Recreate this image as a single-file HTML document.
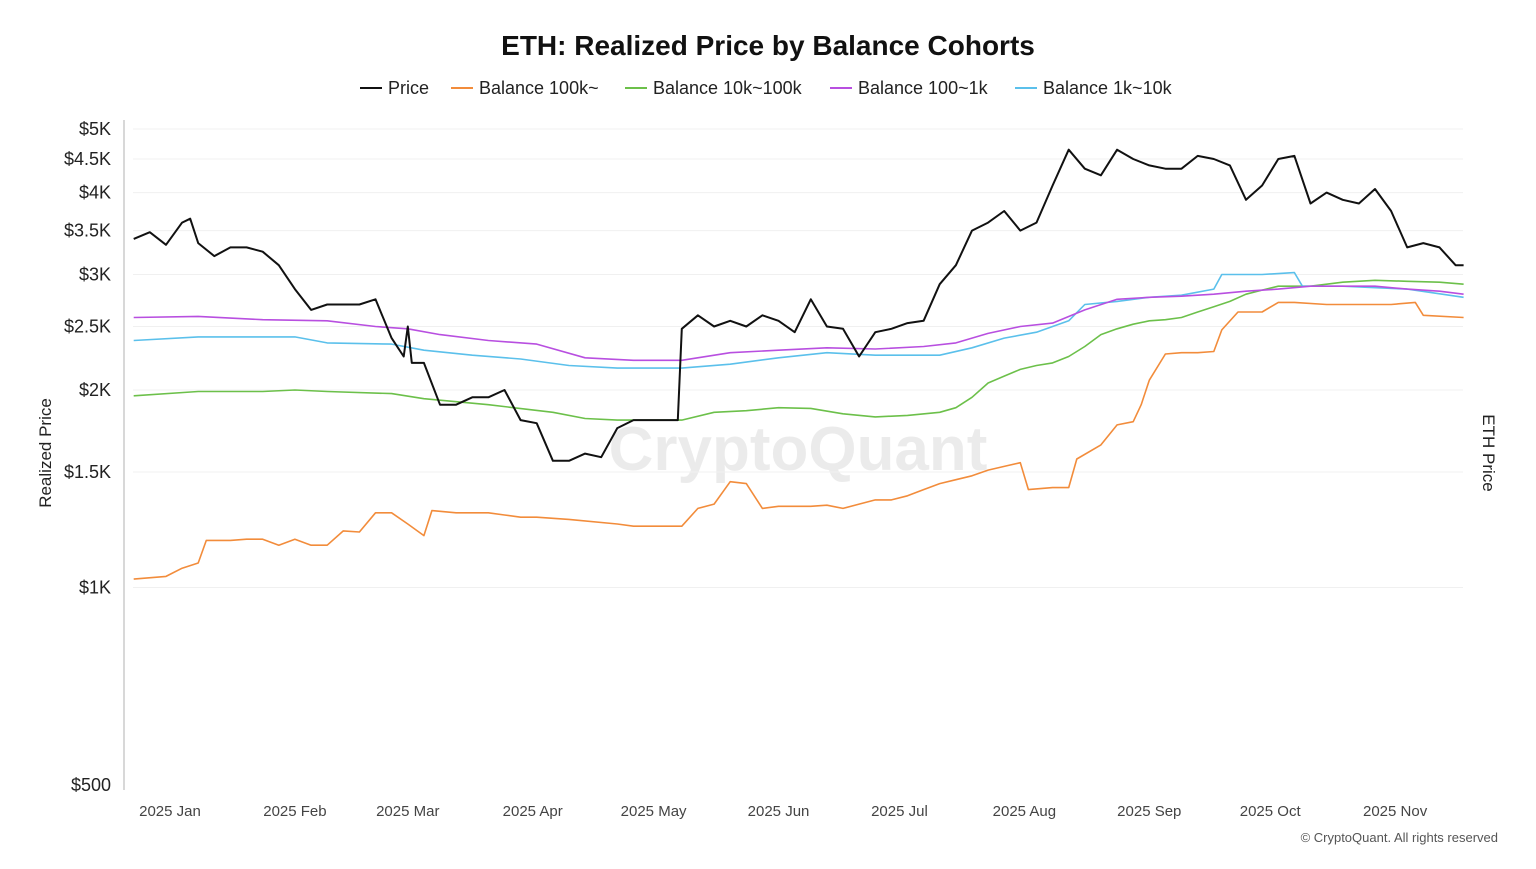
<!DOCTYPE html>
<html><head><meta charset="utf-8"><style>
body{margin:0;background:#fff;font-family:"Liberation Sans",sans-serif;}
svg text{font-family:"Liberation Sans",sans-serif;}
</style></head><body>
<svg id="chart" width="1536" height="864" xmlns="http://www.w3.org/2000/svg">
<text x="768" y="55" text-anchor="middle" font-size="28" font-weight="bold" fill="#111">ETH: Realized Price by Balance Cohorts</text>
<g id="legend" font-size="18" fill="#222"></g>
<text x="798" y="470" text-anchor="middle" font-size="62" font-weight="bold" fill="#000" fill-opacity="0.08">CryptoQuant</text>
<line x1="124" y1="120" x2="124" y2="790" stroke="#ccc" stroke-width="1.5"/>
<g id="grid"></g><g id="yticks" font-size="18" fill="#222"></g><g id="xticks" font-size="15" fill="#444"></g>
<g id="series"></g>
<text transform="translate(51,453) rotate(-90)" text-anchor="middle" font-size="17" fill="#222">Realized Price</text>
<text transform="translate(1483,453) rotate(90)" text-anchor="middle" font-size="17" fill="#222">ETH Price</text>
<text x="1498" y="842" text-anchor="end" font-size="13" fill="#555">© CryptoQuant. All rights reserved</text>
</svg>
<script>
const yTickValues=[5000,4500,4000,3500,3000,2500,2000,1500,1000,500];
const yTickLabels=["$5K","$4.5K","$4K","$3.5K","$3K","$2.5K","$2K","$1.5K","$1K","$500"];
const xTickDays=[0,31,59,90,120,151,181,212,243,273,304];
const xTickLabels=["2025 Jan","2025 Feb","2025 Mar","2025 Apr","2025 May","2025 Jun","2025 Jul","2025 Aug","2025 Sep","2025 Oct","2025 Nov"];
const priceDays=[-9,-5,-1,3,5,7,11,15,19,23,27,31,35,39,43,47,51,55,58,59,60,63,67,71,75,79,83,87,91,95,99,103,107,111,115,119,123,126,127,131,135,139,143,147,151,155,159,163,167,171,175,179,183,187,191,195,199,203,207,211,215,219,223,227,231,235,239,243,247,251,255,259,263,267,271,275,279,283,287,291,295,299,303,307,311,315,319,321];
const priceValues=[3400,3480,3330,3600,3650,3350,3200,3300,3300,3250,3100,2850,2650,2700,2700,2700,2750,2400,2250,2500,2200,2200,1900,1900,1950,1950,2000,1800,1780,1560,1560,1600,1580,1750,1800,1800,1800,1800,2480,2600,2500,2550,2500,2600,2550,2450,2750,2500,2480,2250,2450,2480,2530,2550,2900,3100,3500,3600,3750,3500,3600,4100,4650,4350,4250,4650,4500,4400,4350,4350,4550,4500,4400,3900,4100,4500,4550,3850,4000,3900,3850,4050,3750,3300,3350,3300,3100,3100];
const whaleDays=[-9,-1,3,7,9,15,19,23,27,31,35,39,43,47,51,55,59,63,65,71,79,83,87,91,99,111,115,127,131,135,139,143,147,151,159,163,167,171,175,179,183,187,191,195,199,203,207,211,213,219,223,225,231,235,239,241,243,247,251,255,259,261,265,271,275,279,287,303,309,311,321];
const whaleValues=[1030,1040,1070,1090,1180,1180,1185,1185,1160,1185,1160,1160,1220,1215,1300,1300,1250,1200,1310,1300,1300,1290,1280,1280,1270,1250,1240,1240,1320,1340,1450,1440,1320,1330,1330,1335,1320,1340,1360,1360,1380,1410,1440,1460,1480,1510,1530,1550,1410,1420,1420,1570,1650,1770,1790,1900,2070,2270,2280,2280,2290,2470,2630,2630,2720,2720,2700,2700,2720,2600,2580];
const b10kDays=[-9,7,23,31,39,55,63,79,95,103,111,119,127,135,143,151,159,167,175,183,191,195,199,203,207,211,215,219,223,227,231,235,239,243,247,251,255,259,263,267,271,275,283,291,299,307,315,321];
const b10kValues=[1960,1990,1990,2000,1990,1975,1940,1900,1850,1810,1800,1800,1800,1850,1860,1880,1875,1840,1820,1830,1850,1880,1950,2050,2100,2150,2180,2200,2250,2330,2430,2480,2520,2550,2560,2580,2630,2680,2730,2800,2840,2880,2880,2920,2940,2930,2920,2900];
const b100Days=[-9,7,23,39,51,59,67,79,91,103,115,127,139,151,163,175,187,195,203,211,219,227,235,243,251,259,267,275,283,291,299,307,315,321];
const b100Values=[2580,2590,2560,2550,2500,2480,2430,2380,2350,2240,2220,2220,2280,2300,2320,2310,2330,2360,2440,2500,2530,2650,2750,2770,2780,2800,2830,2850,2880,2880,2880,2850,2830,2800];
const b1kDays=[-9,7,23,31,39,55,63,75,87,99,111,127,139,151,163,175,191,199,207,215,223,227,235,243,251,259,261,271,279,281,291,307,321];
const b1kValues=[2380,2410,2410,2410,2360,2350,2300,2260,2230,2180,2160,2160,2190,2240,2280,2260,2260,2320,2400,2450,2550,2700,2730,2770,2790,2850,3000,3000,3020,2880,2880,2850,2770];
const NS="http://www.w3.org/2000/svg";
const yScale=v=>785-Math.log10(v/500)*656;
const xScale=d=>170+d*4.03;
function mk(tag,attrs,parent){const e=document.createElementNS(NS,tag);for(const k in attrs)e.setAttribute(k,attrs[k]);parent.appendChild(e);return e;}
const grid=document.getElementById('grid'),yt=document.getElementById('yticks'),xt=document.getElementById('xticks');
yTickValues.forEach((v,i)=>{
 if(v>500){const l=mk('line',{x1:133,x2:1463,y1:yScale(v),y2:yScale(v),stroke:'#f0f0f0','stroke-width':1},grid);
 
 }
 const t=mk('text',{x:111,y:yScale(v)+6,'text-anchor':'end'},yt);t.textContent=yTickLabels[i];
 
 
});
xTickDays.forEach((d,i)=>{const t=mk('text',{x:xScale(d),y:816,'text-anchor':'middle'},xt);t.textContent=xTickLabels[i];
 
 });
const series=[
 {n:'series-balance-100k',c:'#f28c3b',d:whaleDays,v:whaleValues,l:'Balance 100k~'},
 {n:'series-balance-10k-100k',c:'#6cc04a',d:b10kDays,v:b10kValues,l:'Balance 10k~100k'},
 {n:'series-balance-1k-10k',c:'#5bc0eb',d:b1kDays,v:b1kValues,l:'Balance 1k~10k'},
 {n:'series-balance-100-1k',c:'#b84fe0',d:b100Days,v:b100Values,l:'Balance 100~1k'},
 {n:'series-price',c:'#111',d:priceDays,v:priceValues,l:'Price'}];
const sg=document.getElementById('series');
series.forEach(s=>{const p=mk('path',{d:s.d.map((d,i)=>(i?'L':'M')+xScale(d).toFixed(1)+','+yScale(s.v[i]).toFixed(1)).join(''),fill:'none',stroke:s.c,'stroke-width':s.n==='series-price'?2:1.6,'stroke-linejoin':'round'},sg);
 
 });
const lg=document.getElementById('legend');
const leg=[['Price','#111',360],['Balance 100k~','#f28c3b',451],['Balance 10k~100k','#6cc04a',625],['Balance 100~1k','#b84fe0',830],['Balance 1k~10k','#5bc0eb',1015]];
leg.forEach(e=>{const g=mk('g',{},lg);
 
 
 mk('line',{x1:e[2],x2:e[2]+22,y1:88,y2:88,stroke:e[1],'stroke-width':2},g);
 const t=mk('text',{x:e[2]+28,y:94},g);t.textContent=e[0];});
</script>
</body></html>
